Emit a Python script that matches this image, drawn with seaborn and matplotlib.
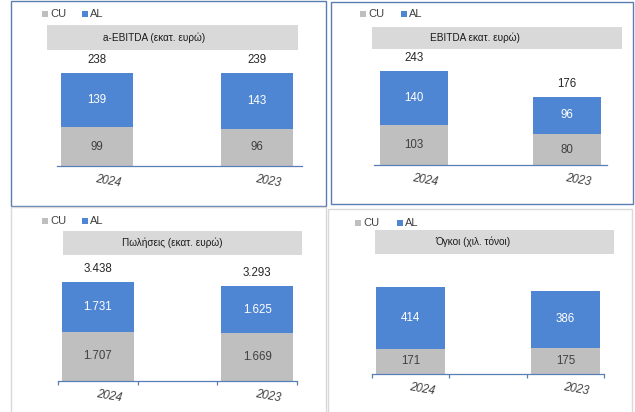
import numpy as np
import seaborn as sns
import matplotlib.pyplot as plt
from matplotlib.patches import Rectangle

# data
years = ['2024', '2023']
series = ['CU', 'AL']
titles = ['a-EBITDA (εκατ. ευρώ)', 'EBITDA εκατ. ευρώ)',
          'Πωλήσεις (εκατ. ευρώ)', 'Όγκοι (χιλ. τόνοι)']
cu_vals = [[99, 96], [103, 80], [1707, 1669], [171, 175]]
al_vals = [[139, 143], [140, 96], [1731, 1625], [414, 386]]
totals = [[238, 239], [243, 176], [3438, 3293], None]

BLUE = '#4F86D3'
GRAY = '#BFBFBF'
AXC = '#5B7DB5'
W, H = 635, 412

# layout in pixels: axes left/right/bottom, bar centres, px per unit, title box, legend
layout = [
    dict(axl=57, axr=302, bot=166, c=(97, 257), scale=0.39, box=(47, 25, 298, 50), tdx=-18, leg=(42, 82, 14), ticks=False),
    dict(axl=374, axr=607, bot=165, c=(414, 567), scale=0.387, box=(372, 27, 622, 49), tdx=-22, leg=(360, 401, 14), ticks=False),
    dict(axl=58, axr=297, bot=381, c=(97, 257), scale=0.0288, box=(63, 231, 302, 255), tdx=-10, leg=(42, 82, 221), ticks=True),
    dict(axl=372, axr=604, bot=374, c=(410, 566), scale=0.1487, box=(375, 230, 614, 254), tdx=-22, leg=(355, 397, 223), ticks=True),
]


def fx(x):
    return x / W


def fy(y):
    return 1 - y / H


def fmt(v):
    return f'{v:,}'.replace(',', '.')


sns.set_theme(style='white')
plt.rcParams['font.family'] = ['Liberation Sans', 'DejaVu Sans']

fig = plt.figure(figsize=(6.35, 4.12), dpi=100)
fig.patch.set_facecolor('white')

# panel frames
fig.patches.append(Rectangle((fx(11), fy(206)), fx(326 - 11), (206 - 1) / H, transform=fig.transFigure,
                             fill=False, edgecolor='#5A7DB0', lw=1.0))
fig.patches.append(Rectangle((fx(331), fy(204)), fx(633 - 331), (204 - 2) / H, transform=fig.transFigure,
                             fill=False, edgecolor='#5A7DB0', lw=1.0))
fig.patches.append(Rectangle((fx(11), fy(420)), fx(326 - 11), (420 - 207) / H, transform=fig.transFigure,
                             fill=False, edgecolor='#D9D9D9', lw=1.0))
fig.patches.append(Rectangle((fx(328), fy(420)), fx(632 - 328), (420 - 209) / H, transform=fig.transFigure,
                             fill=False, edgecolor='#D9D9D9', lw=1.0))

for i, lay in enumerate(layout):
    cu = np.array(cu_vals[i])
    al = np.array(al_vals[i])
    top_px = lay['box'][3] + 2
    ax = fig.add_axes([fx(lay['axl']), fy(lay['bot']), fx(lay['axr'] - lay['axl']), (lay['bot'] - top_px) / H])
    ax.set_facecolor('none')

    s = lay['c'][1] - lay['c'][0]
    sns.barplot(x=years, y=cu + al, color=BLUE, saturation=1, width=0.45, ax=ax, linewidth=0)
    sns.barplot(x=years, y=cu, color=GRAY, saturation=1, width=0.45, ax=ax, linewidth=0)
    ax.set_xlim((lay['axl'] - lay['c'][0]) / s, (lay['axr'] - lay['c'][0]) / s)
    ax.set_ylim(0, (lay['bot'] - top_px) / lay['scale'])

    for sp in ['top', 'left', 'right']:
        ax.spines[sp].set_visible(False)
    ax.spines['bottom'].set_color(AXC)
    ax.spines['bottom'].set_linewidth(0.9)
    ax.set_yticks([])
    ax.set_xticks([])
    ax.set_xlabel('')
    ax.set_ylabel('')
    if lay['ticks']:
        ax.set_xticks([-0.25, 0.25, 0.75, 1.25], minor=True)
        ax.tick_params(axis='x', which='minor', bottom=True, length=3, width=0.9, color=AXC, direction='out')

    for j, yr in enumerate(years):
        ax.text(j, cu[j] / 2, fmt(cu[j]), ha='center', va='center', fontsize=8.3, color='#404040')
        ax.text(j, cu[j] + al[j] / 2, fmt(al[j]), ha='center', va='center', fontsize=8.3, color='white')
        if totals[i] is not None:
            ax.annotate(fmt(totals[i][j]), xy=(j, cu[j] + al[j]), xytext=(0, 13), textcoords='offset pixels',
                        ha='center', va='center', fontsize=8.3, color='#262626')
        ax.annotate(yr, xy=(j, 0), xytext=(11, -15), textcoords='offset pixels', ha='center', va='center',
                    fontsize=8.3, style='italic', rotation=-10, color='#404040', annotation_clip=False)

    # title band
    x0, y0, x1, y1 = lay['box']
    fig.patches.append(Rectangle((fx(x0), fy(y1)), fx(x1 - x0), (y1 - y0) / H, transform=fig.transFigure,
                                 facecolor='#D9D9D9', edgecolor='none'))
    fig.text(fx((x0 + x1) / 2 + lay['tdx']), fy((y0 + y1) / 2), titles[i], ha='center', va='center',
             fontsize=7.2, color='#1A1A1A')

    # legend
    lx_cu, lx_al, ly = lay['leg']
    for lx, name, col in [(lx_cu, series[0], GRAY), (lx_al, series[1], BLUE)]:
        fig.patches.append(Rectangle((fx(lx), fy(ly + 3)), fx(6), 6 / H, transform=fig.transFigure,
                                     facecolor=col, edgecolor='none'))
        fig.text(fx(lx + 8), fy(ly), name, ha='left', va='center', fontsize=8, color='#404040')

fig.savefig('out.png', dpi=100)
